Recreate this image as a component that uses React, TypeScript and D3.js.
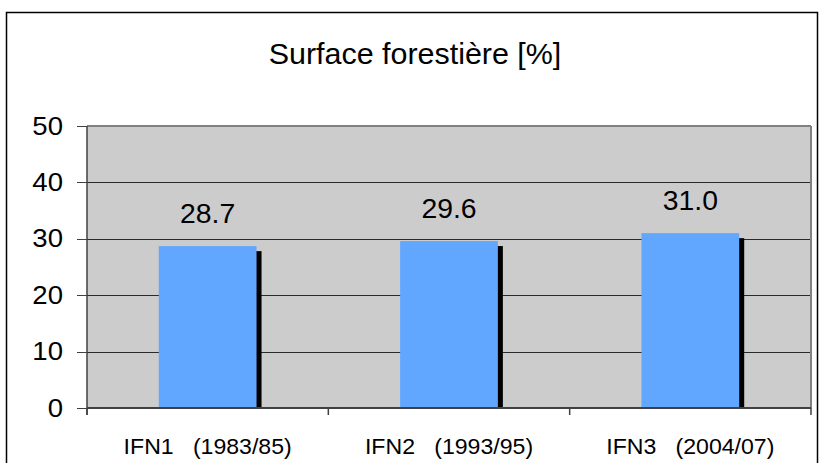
import React from "react";
import * as d3 from "d3";

const categories = ["IFN1   (1983/85)", "IFN2   (1993/95)", "IFN3   (2004/07)"];
const values = [28.7, 29.6, 31.0];
const yTicks = [0, 10, 20, 30, 40, 50];
const title = "Surface forestière [%]";

const W = 820;
const H = 463;
const plot = { left: 87, right: 811, top: 126, bottom: 408 };
const FONT = "'Liberation Sans', Arial, sans-serif";

export default function App() {
  const x = d3.scaleBand<string>().domain(categories).range([plot.left, plot.right]).padding(0);
  const y = d3.scaleLinear().domain([0, 50]).range([plot.bottom, plot.top]);
  const bw = x.bandwidth() * 0.405;
  const boundaries = [plot.left, ...categories.map((c) => (x(c) as number) + x.bandwidth())];

  const stretched = (
    tx: number,
    ty: number,
    sx: number,
    size: number,
    txt: string,
    anchor: "start" | "middle" | "end",
    key?: string
  ) => (
    <g key={key} transform={`translate(${tx},${ty}) scale(${sx},1)`}>
      <text
        x={0}
        y={0}
        fontSize={size}
        fontFamily={FONT}
        textAnchor={anchor}
        fill="#000"
        style={{ whiteSpace: "pre" }}
      >
        {txt}
      </text>
    </g>
  );

  return (
    <svg
      width={W}
      height={H}
      style={{ position: "absolute", left: 0, top: 0, background: "#fff" }}
    >
      {/* outer frame */}
      <rect x={6.5} y={12.5} width={811} height={470} fill="#fff" stroke="#000" strokeWidth={1.5} />

      {/* title */}
      {stretched(415, 64, 1.05, 29, title, "middle")}

      {/* plot background */}
      <rect
        x={plot.left}
        y={plot.top}
        width={plot.right - plot.left}
        height={plot.bottom - plot.top}
        fill="#cccccc"
      />

      {/* gridlines */}
      {yTicks
        .filter((t) => t > 0 && t < 50)
        .map((t) => (
          <line
            key={"g" + t}
            x1={plot.left}
            x2={plot.right}
            y1={Math.round(y(t)) + 0.5}
            y2={Math.round(y(t)) + 0.5}
            stroke="#2a2a2a"
            strokeWidth={1}
          />
        ))}

      {/* plot border top/right */}
      <line x1={plot.left} x2={plot.right} y1={plot.top} y2={plot.top} stroke="#808080" strokeWidth={2} />
      <line x1={plot.right} x2={plot.right} y1={plot.top} y2={plot.bottom} stroke="#808080" strokeWidth={2} />

      {/* bars with shadows */}
      {categories.map((c, i) => {
        const cx = (x(c) as number) + x.bandwidth() / 2;
        const top = y(values[i]);
        return (
          <g key={"b" + i}>
            <rect x={cx - bw / 2 + 5} y={top + 5} width={bw} height={plot.bottom - top - 5} fill="#000" />
            <rect x={cx - bw / 2} y={top} width={bw} height={plot.bottom - top} fill="#61a6ff" />
          </g>
        );
      })}

      {/* value labels */}
      {categories.map((c, i) =>
        stretched(
          (x(c) as number) + x.bandwidth() / 2,
          y(values[i]) - 23,
          1.05,
          27,
          values[i].toFixed(1),
          "middle",
          "v" + i
        )
      )}

      {/* axes */}
      <line x1={plot.left} x2={plot.left} y1={plot.top} y2={plot.bottom + 7} stroke="#404040" strokeWidth={1.5} />
      <line x1={plot.left} x2={plot.right} y1={plot.bottom} y2={plot.bottom} stroke="#404040" strokeWidth={2} />
      {boundaries.map((b, i) => (
        <line key={"xt" + i} x1={b} x2={b} y1={plot.bottom} y2={plot.bottom + 7} stroke="#404040" strokeWidth={1.5} />
      ))}
      {yTicks.map((t) => (
        <line
          key={"yt" + t}
          x1={plot.left - 10}
          x2={plot.left}
          y1={Math.round(y(t)) + 0.5}
          y2={Math.round(y(t)) + 0.5}
          stroke="#404040"
          strokeWidth={1}
        />
      ))}
      {yTicks.map((t) => stretched(63, y(t) + 8.5, 1.06, 26, String(t), "end", "yl" + t))}

      {/* category labels */}
      {categories.map((c, i) =>
        stretched((x(c) as number) + x.bandwidth() / 2, 454, 1.05, 22, c, "middle", "xl" + i)
      )}
    </svg>
  );
}
